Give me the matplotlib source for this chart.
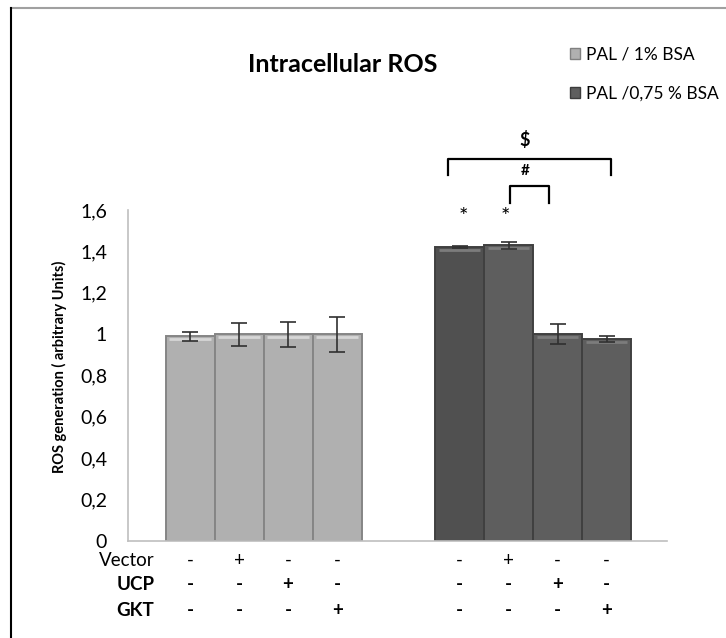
"""
Intracellular ROS bar chart: PAL / 1% BSA vs PAL / 0,75 % BSA,
with vector / UCP / GKT treatment table under the bars.
"""

import matplotlib.pyplot as plt
import numpy as np
from matplotlib.lines import Line2D
from matplotlib.patches import Patch

plt.rcParams["font.family"] = ["Lato", "DejaVu Sans"]

# data
light_vals = [0.99, 1.0, 1.0, 1.0]
light_err = [0.022, 0.056, 0.06, 0.084]
dark_vals = [1.42, 1.43, 1.0, 0.975]
dark_err = [0.004, 0.017, 0.05, 0.015]
series_labels = ["PAL / 1% BSA", "PAL /0,75 % BSA"]

row_names = ["Vector", "UCP", "GKT"]
vector_row = ["-", "+", "-", "-", "-", "+", "-", "-"]
ucp_row = ["-", "-", "+", "-", "-", "-", "+", "-"]
gkt_row = ["-", "-", "-", "+", "-", "-", "-", "+"]

y_ticks = [0, 0.2, 0.4, 0.6, 0.8, 1.0, 1.2, 1.4, 1.6]
y_tick_labels = ["0", "0,2", "0,4", "0,6", "0,8", "1", "1,2", "1,4", "1,6"]

W, H = 726, 638
fig = plt.figure(figsize=(W / 100, H / 100), dpi=100)
ax = fig.add_axes([128 / W, 1 - 541 / H, (667 - 128) / W, (541 - 210) / H])

x_light = np.arange(4)
x_dark = np.arange(4) + 5.5
width = 1.0

light_col = "#b0b0b0"
dark_cols = ["#505050", "#5e5e5e", "#5e5e5e", "#5e5e5e"]

ax.bar(x_light, light_vals, width, color=light_col, edgecolor="#858585", linewidth=1.4, zorder=2)
ax.bar(x_dark, dark_vals, width, color=dark_cols, edgecolor="#404040", linewidth=1.4, zorder=2)

# bevel highlight near bar tops
for xs, vals, hl in [(x_light, light_vals, "#d6d6d6"), (x_dark, dark_vals, "#7c7c7c")]:
    for x, v in zip(xs, vals):
        ax.plot([x - 0.42, x + 0.42], [v - 0.013, v - 0.013], color=hl, lw=2, zorder=3,
                solid_capstyle="butt")

ax.errorbar(x_light, light_vals, yerr=light_err, fmt="none", ecolor="#303030",
            elinewidth=1.2, capsize=6, capthick=1.2, zorder=4)
ax.errorbar(x_dark, dark_vals, yerr=dark_err, fmt="none", ecolor="#303030",
            elinewidth=1.2, capsize=6, capthick=1.2, zorder=4)

ax.set_xlim(-1.265, 9.73)
ax.set_ylim(0, 1.6)
ax.set_yticks(y_ticks)
ax.set_yticklabels(y_tick_labels, fontsize=14)
ax.set_xticks([])
ax.tick_params(axis="y", length=0, pad=15)
for side in ["top", "right"]:
    ax.spines[side].set_visible(False)
for side in ["left", "bottom"]:
    ax.spines[side].set_color("#bfbfbf")
    ax.spines[side].set_linewidth(1.2)

ax.set_ylabel("ROS generation ( arbitrary Units)", fontsize=10.5, fontweight="bold")
ax.yaxis.set_label_coords(-0.114, 0.526)

# treatment table under the bars
all_x = np.concatenate([x_light, x_dark])
row_y = [-0.093, -0.212, -0.335]
for name, row, y in zip(row_names, [vector_row, ucp_row, gkt_row], row_y):
    bold = "normal" if name == "Vector" else "bold"
    ax.text(-0.73, y, name, ha="right", va="center", fontsize=13.5, fontweight=bold, clip_on=False)
    for x, s in zip(all_x, row):
        ax.text(x, y, s, ha="center", va="center", fontsize=13.5, fontweight=bold, clip_on=False)

# significance marks
lw = 1.6
x0, x1 = x_dark[0] - 0.23, x_dark[3] + 0.09
ax.plot([x0, x0, x1, x1], [1.769, 1.846, 1.846, 1.769], color="black", lw=lw, clip_on=False)
ax.text((x0 + x1) / 2 - 0.1, 1.94, "$", ha="center", va="center", fontsize=13, fontweight="bold")
ax.text((x0 + x1) / 2 - 0.1, 1.79, "#", ha="center", va="center", fontsize=11, fontweight="bold")
s0, s1 = x_dark[1] + 0.03, x_dark[2] - 0.17
ax.plot([s0, s0, s1, s1], [1.634, 1.716, 1.716, 1.634], color="black", lw=lw, clip_on=False)
for x in x_dark[:2]:
    ax.text(x + 0.07 if x == x_dark[0] else x - 0.06, 1.565, "*", ha="center", va="center", fontsize=16)

fig.text(343 / W, 1 - 64 / H, "Intracellular ROS", ha="center", va="center",
         fontsize=18, fontweight="bold")

handles = [Patch(facecolor=light_col, edgecolor="#808080"),
           Patch(facecolor="#5e5e5e", edgecolor="#3c3c3c")]
fig.legend(handles, series_labels, loc="upper left", bbox_to_anchor=(570 / W, 1 - 47 / H),
           frameon=False, fontsize=12.5, handlelength=0.6, handleheight=0.6, handletextpad=0.35,
           labelspacing=1.3, borderaxespad=0, borderpad=0)

# outer frame: gray top line, black left line
fig.add_artist(Line2D([11 / W, 1], [1 - 7.5 / H, 1 - 7.5 / H], color="#a0a0a0", lw=1.5))
fig.add_artist(Line2D([11 / W, 11 / W], [0, 1 - 7.5 / H], color="black", lw=1.5))

fig.savefig("out.png", dpi=100)
